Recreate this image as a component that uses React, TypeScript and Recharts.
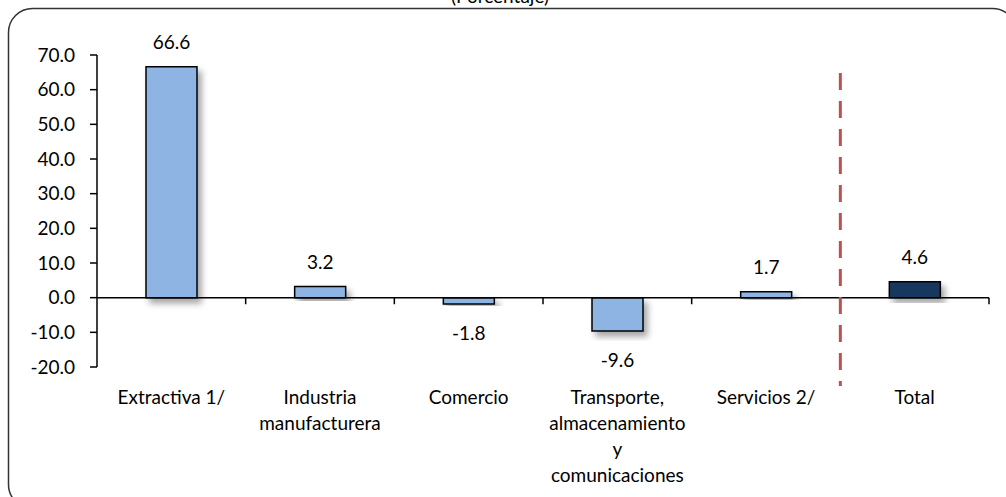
import React from "react";
import { BarChart, Bar, XAxis, YAxis, ReferenceLine, Cell, LabelList } from "recharts";

const categories = ["Extractiva 1/", "Industria manufacturera", "Comercio", "Transporte, almacenamiento y comunicaciones", "Servicios 2/", "Total"];
const tickLines = [["Extractiva 1/"], ["Industria", "manufacturera"], ["Comercio"], ["Transporte,", "almacenamiento", "y", "comunicaciones"], ["Servicios 2/"], ["Total"]];
const values = [66.6, 3.2, -1.8, -9.6, 1.7, 4.6];
const barColors = ["#8EB4E3", "#8EB4E3", "#8EB4E3", "#8EB4E3", "#8EB4E3", "#17375E"];
const yTicks = [-20, -10, 0, 10, 20, 30, 40, 50, 60, 70];

const data = categories.map((name, i) => ({ name, value: values[i] }));

const FONT = "Lato, 'Open Sans', sans-serif";

function CategoryTick(props: any) {
  const { x, y, index } = props;
  const lines = tickLines[index] || [];
  return (
    <g>
      {lines.map((l, i) => (
        <text key={i} x={x} y={y + 21 + i * 26} textAnchor="middle" dominantBaseline="central" fontSize={19} fontFamily={FONT} fill="#000">
          {l}
        </text>
      ))}
    </g>
  );
}

function ValueLabel(props: any) {
  const { x, y, width, height, value } = props;
  const top = Math.min(y, y + height);
  const bottom = Math.max(y, y + height);
  const ly = value >= 0 ? top - 25 : bottom + 29;
  return (
    <text x={x + width / 2} y={ly} textAnchor="middle" dominantBaseline="central" fontSize={19} fontFamily={FONT} fill="#000">
      {Number(value).toFixed(1)}
    </text>
  );
}

export default function App() {
  return (
    <div style={{ position: "absolute", left: 0, top: 0, width: 1006, height: 497, background: "#fff", overflow: "hidden" }}>
      <svg width={1006} height={497} style={{ position: "absolute", left: 0, top: 0 }}>
        <rect x={8.5} y={8.5} width={1008} height={500} rx={24} ry={24} fill="#fff" stroke="#333" strokeWidth={1.5} />
        <text x={500} y={3} textAnchor="middle" fontSize={19} fontFamily={FONT} fill="#000">
          (Porcentaje)
        </text>
      </svg>
      <div style={{ position: "absolute", left: 0, top: 0 }}>
        <BarChart width={1006} height={497} data={data} margin={{ top: 55, right: 17, bottom: 0, left: 0 }}>
          <defs>
            <filter id="barShadow" x="-20%" y="-20%" width="150%" height="150%">
              <feDropShadow dx={4} dy={5} stdDeviation={3} floodColor="#000" floodOpacity={0.35} />
            </filter>
          </defs>
          <XAxis dataKey="name" axisLine={false} tickLine={false} height={130} interval={0} tick={<CategoryTick />} />
          <YAxis
            domain={[-20, 70]}
            ticks={yTicks}
            width={97}
            tickFormatter={(v: number) => v.toFixed(1)}
            tick={{ fontSize: 19, fontFamily: FONT, fill: "#000" }}
            tickSize={7}
            tickMargin={15}
            axisLine={{ stroke: "#000", strokeWidth: 1.5 }}
            tickLine={{ stroke: "#000", strokeWidth: 1.5 }}
            allowDataOverflow
          />
          <Bar dataKey="value" barSize={51} stroke="#000" strokeWidth={1.5} isAnimationActive={false} filter="url(#barShadow)">
            {data.map((d, i) => (
              <Cell key={d.name} fill={barColors[i]} />
            ))}
            <LabelList dataKey="value" content={<ValueLabel />} />
          </Bar>
          <ReferenceLine y={0} stroke="#000" strokeWidth={1.5} />
          {categories.slice(1).map((c) => (
            <ReferenceLine key={c} segment={[{ x: c, y: 0 }, { x: c, y: -1.9 }]} position="start" stroke="#000" strokeWidth={1.5} />
          ))}
          <ReferenceLine segment={[{ x: "Total", y: 0 }, { x: "Total", y: -1.9 }]} position="end" stroke="#000" strokeWidth={1.5} ifOverflow="visible" />
          <ReferenceLine
            segment={[{ x: "Total", y: 64.8 }, { x: "Total", y: -25.5 }]}
            position="start"
            stroke="#C0504D"
            strokeWidth={3}
            strokeDasharray="17 11"
            ifOverflow="visible"
          />
        </BarChart>
      </div>
    </div>
  );
}
